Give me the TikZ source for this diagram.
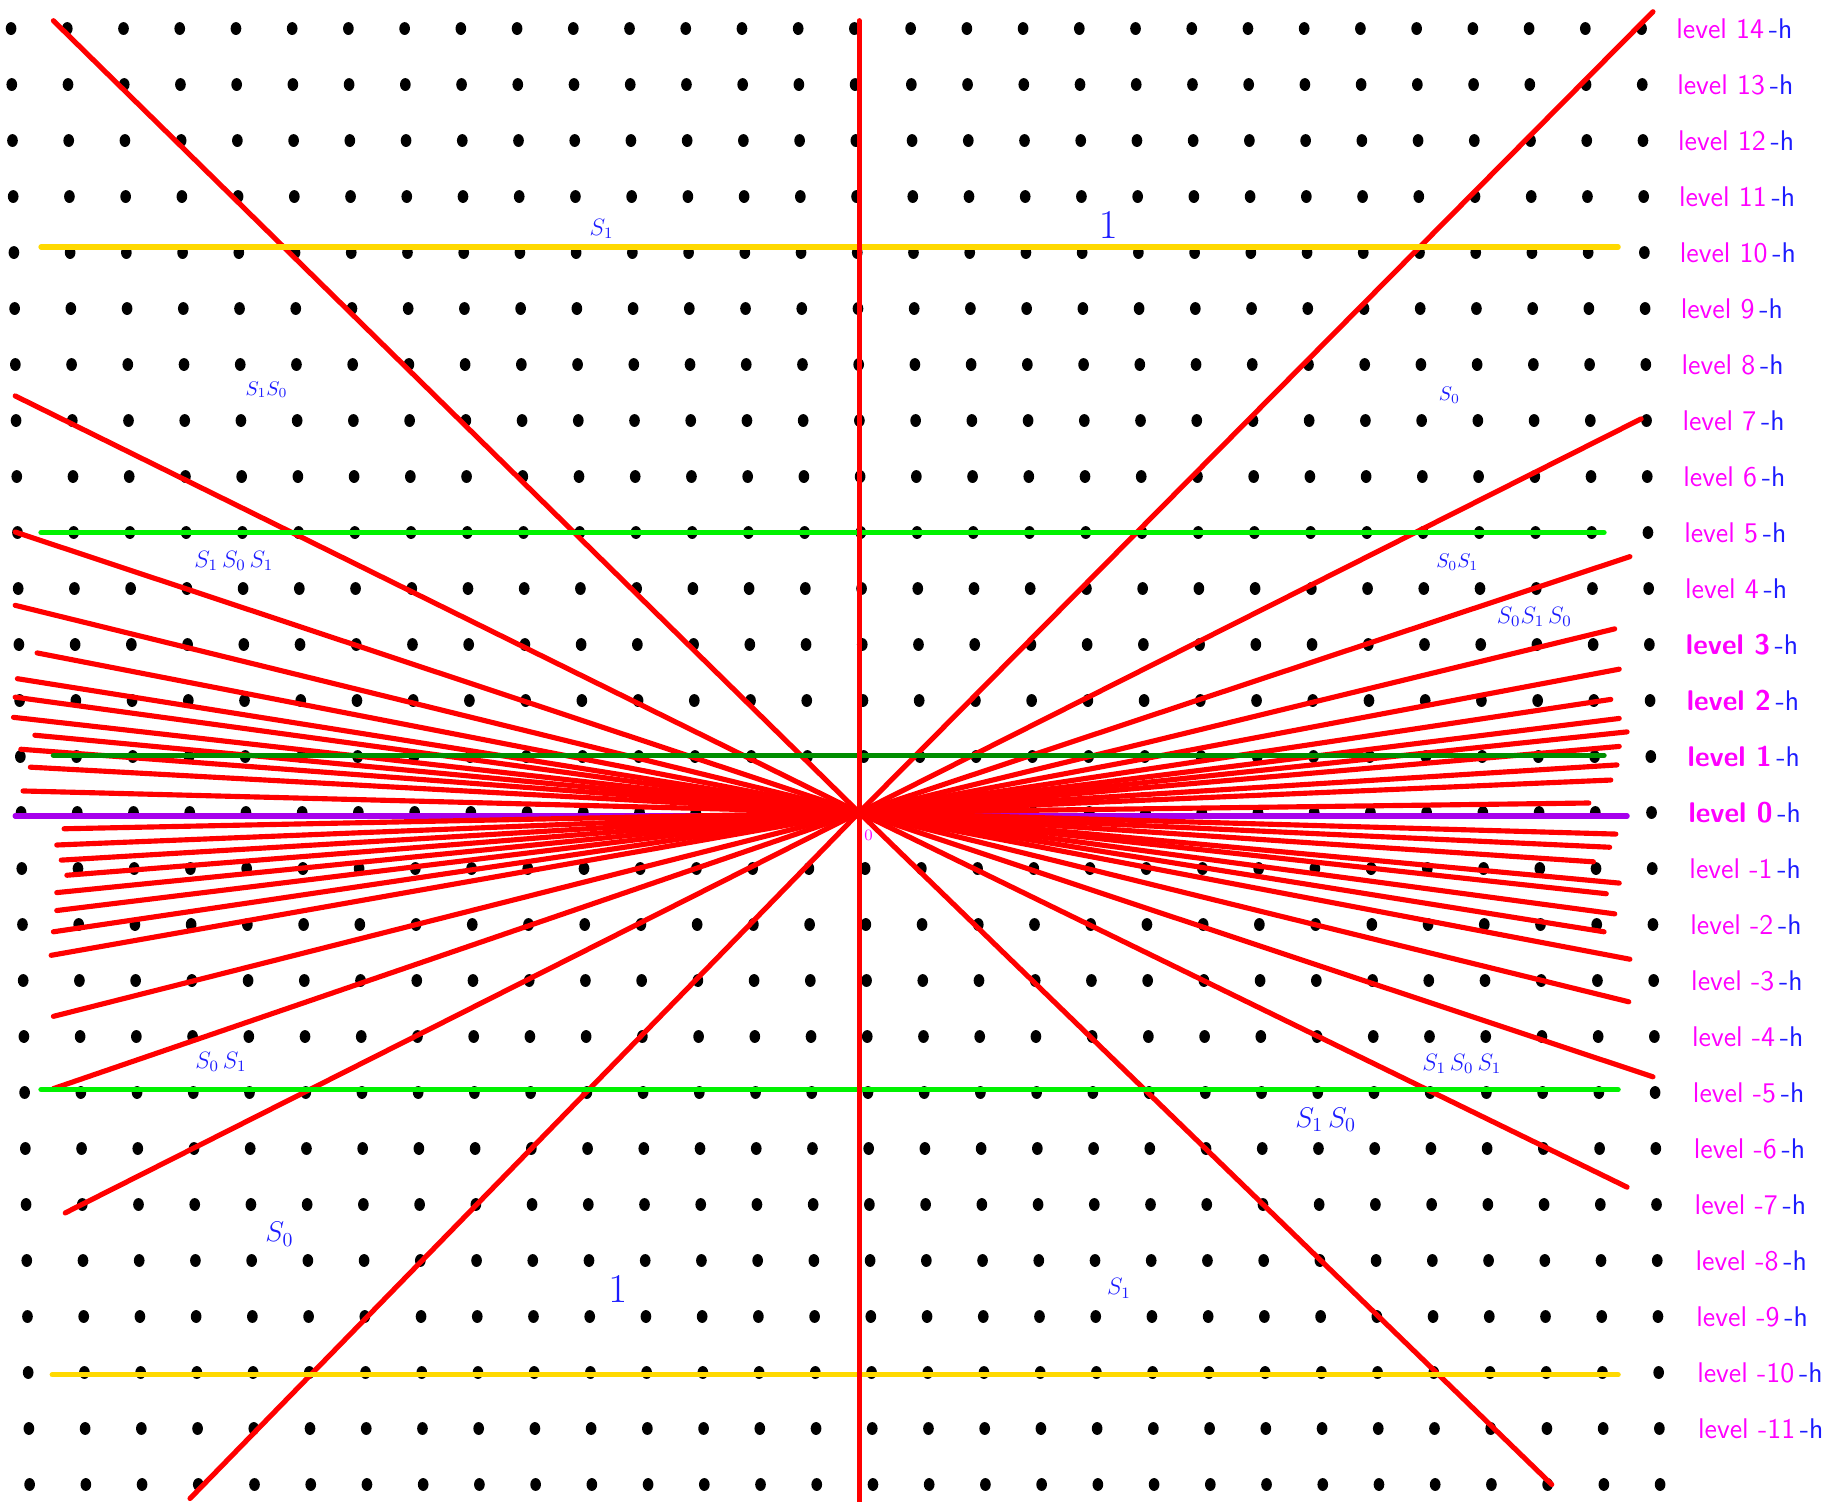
\documentclass[tikz,border=0pt]{standalone}
\usepackage{tikz}
\definecolor{redline}{HTML}{FF0000}
\definecolor{goldline}{HTML}{FFD900}
\definecolor{limeline}{HTML}{00F200}
\definecolor{leafline}{HTML}{008E00}
\definecolor{plumline}{HTML}{A600EC}
\definecolor{pinkink}{HTML}{FF00FF}
\definecolor{blueink}{HTML}{1C1CFF}
\usetikzlibrary{positioning, calc}

\begin{document}
\begin{tikzpicture}[
    x=1cm, y=0.996cm,
    % Node styles
    grid dot/.style={
        fill=black
    },
    ray line/.style={
        draw=redline,
        line width=2.6pt,
        line cap=round,
        line join=round
    },
    level line/.style={
        line width=2.7pt,
        line cap=round
    },
    level label/.style={
        anchor=west,
        inner sep=0pt,
        font=\sffamily\Large,
        text=pinkink
    },
    word label/.style={
        inner sep=0pt,
        text=blueink
    }
]

\useasboundingbox (-15.28,-12.31) rectangle (17.18,14.51);

% Dot grid (rows drift slightly to the right going down)
\foreach \l in {-12,...,14} {
    \pgfmathsetmacro{\drift}{-0.083+(14-\l)*0.0127}
    \foreach \k in {-15,...,14} {
        \fill[grid dot] (\k+\drift, \l) ellipse [x radius=0.095, y radius=0.115];
    }
}

\coordinate (O) at (0,0);

% Level 0
\draw[level line, draw=plumline] (-15.01,-0.06) -- (13.66,-0.06);

% Rays with positive slope: lower left end / upper right end
\foreach \ax/\ay/\bx/\by in {
    -11.90/-12.25/14.12/14.30,
    -14.12/-7.15/13.91/7.03,
    -14.33/-4.93/13.71/4.57,
    -14.33/-3.64/13.44/3.28,
    -14.37/-2.55/13.52/2.56,
    -14.33/-2.13/13.37/2.02,
    -14.27/-1.75/13.52/1.68,
    -14.27/-1.43/13.66/1.44,
    -14.09/-1.12/13.52/1.18,
    -14.19/-0.85/13.48/0.85,
    -14.27/-0.58/13.37/0.58,
    -14.14/-0.29/12.98/0.17} {
    \draw[ray line] (\ax,\ay) -- (O) -- (\bx,\by);
}

% Rays with negative slope: upper left end / lower right end
\foreach \ax/\ay/\bx/\by in {
    -14.33/14.14/12.32/-12.00,
    -15.01/7.44/13.66/-6.69,
    -15.01/5.01/14.12/-4.72,
    -15.01/3.70/13.69/-3.38,
    -14.62/2.85/13.71/-2.62,
    -14.97/2.39/13.25/-2.13,
    -15.01/2.06/13.44/-1.81,
    -15.04/1.70/13.29/-1.45,
    -14.66/1.38/13.52/-1.26,
    -14.91/1.13/13.06/-0.88,
    -14.74/0.81/13.35/-0.62,
    -14.87/0.385/13.46/-0.385} {
    \draw[ray line] (\ax,\ay) -- (O) -- (\bx,\by);
}

% Marked levels
\draw[level line, draw=goldline] (-14.55,10.10) -- (13.50,10.10);
\draw[level line, draw=limeline] (-14.55,5.0) -- (13.25,5.0);
\draw[level line, draw=leafline] (-14.33,1.02) -- (13.25,1.02);
\draw[level line, draw=limeline] (-14.55,-4.95) -- (13.50,-4.95);
\draw[level line, draw=goldline] (-14.35,-10.04) -- (13.50,-10.04);

% Vertical axis
\draw[ray line] (0,14.14) -- (O) -- (0,-12.31);

\node[text=pinkink, inner sep=0pt, font=\footnotesize] (zero) at (0.17,-0.40) {0};

% Level labels
\foreach \l in {-11,...,-1,4,5,...,14} {
    \node[level label] (lab-\l) at ({14.53+(14-\l)*0.0155}, \l) {level \l\,\textcolor{blueink}{-h}};
}
\foreach \l in {0,...,3} {
    \node[level label] (lab-\l) at ({14.53+(14-\l)*0.0155}, \l) {\bfseries level \l\,\textcolor{blueink}{\mdseries-h}};
}

% Words in the chambers
\node[word label, font=\large] (w-a) at (-4.58,10.42) {$S_1$};
\node[word label, font=\huge] (w-b) at (4.43,10.48) {$1$};
\node[word label, font=\normalsize] (w-c) at (-10.54,7.55) {$S_1S_0$};
\node[word label, font=\normalsize] (w-d) at (10.50,7.46) {$S_0$};
\node[word label, font=\large] (w-e) at (-11.12,4.49) {$S_1\,S_0\,S_1$};
\node[word label, font=\normalsize] (w-f) at (10.64,4.47) {$S_0S_1$};
\node[word label, font=\large] (w-g) at (12.01,3.49) {$S_0S_1\,S_0$};
\node[word label, font=\large] (w-h) at (-11.35,-4.45) {$S_0\,S_1$};
\node[word label, font=\large] (w-i) at (10.72,-4.49) {$S_1\,S_0\,S_1$};
\node[word label, font=\Large] (w-j) at (8.30,-5.49) {$S_1\,S_0$};
\node[word label, font=\Large] (w-k) at (-10.31,-7.53) {$S_0$};
\node[word label, font=\huge] (w-l) at (-4.29,-8.52) {$1$};
\node[word label, font=\large] (w-m) at (4.62,-8.50) {$S_1$};

\end{tikzpicture}
\end{document}
